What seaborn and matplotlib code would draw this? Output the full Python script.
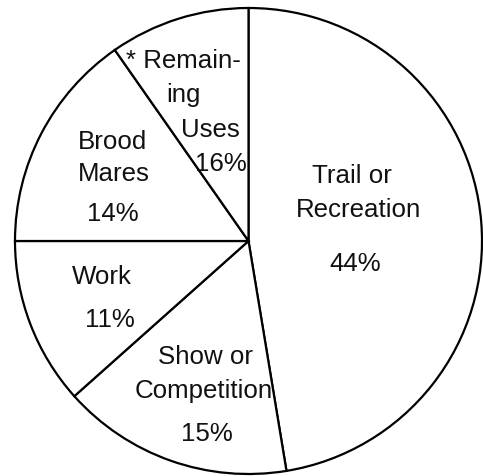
import matplotlib
matplotlib.use("Agg")
import matplotlib.pyplot as plt
import seaborn as sns

sns.set_theme(style="white")
plt.rcParams["font.family"] = ["Liberation Sans", "DejaVu Sans"]

# Data (slice sizes as drawn, printed labels as shown)
categories = ["Trail or Recreation", "Show or Competition", "Work", "Brood Mares", "* Remaining Uses"]
values = [47.4, 16.0, 11.6, 15.3, 9.7]
pct_labels = ["44%", "15%", "11%", "14%", "16%"]

W, H = 483, 477
fig = plt.figure(figsize=(W / 100, H / 100), dpi=100)
fig.patch.set_facecolor("white")
ax = fig.add_axes([15 / W, 2 / H, 467 / W, 466 / H])
ax.pie(values, startangle=90, counterclock=False,
       colors=["white"] * len(values),
       wedgeprops=dict(edgecolor="black", linewidth=1.6))
ax.set_aspect("auto")
ax.set_xlim(-1, 1)
ax.set_ylim(-1, 1)
ax.axis("off")
for p in ax.patches:
    p.set_clip_on(False)

FS = 18.6
def put(txt, x, y):
    fig.text(x / W, 1 - y / H, txt, ha="center", va="baseline",
             fontsize=FS, color="#111111")

# Trail or Recreation
put("Trail or", 352, 183)
put("Recreation", 358, 217)
put(pct_labels[0], 355, 271)
# Show or Competition
put("Show or", 206, 364)
put("Competition", 204, 398)
put(pct_labels[1], 207, 441)
# Work
put("Work", 102, 284)
put(pct_labels[2], 110, 327)
# Brood Mares
put("Brood", 113, 149)
put("Mares", 114, 181)
put(pct_labels[3], 113, 221)
# Remaining uses
put("* Remain-", 183, 68)
put("ing", 183, 102)
put("Uses", 210, 137)
put(pct_labels[4], 221, 171)

fig.savefig("out.png", dpi=100, facecolor="white")
